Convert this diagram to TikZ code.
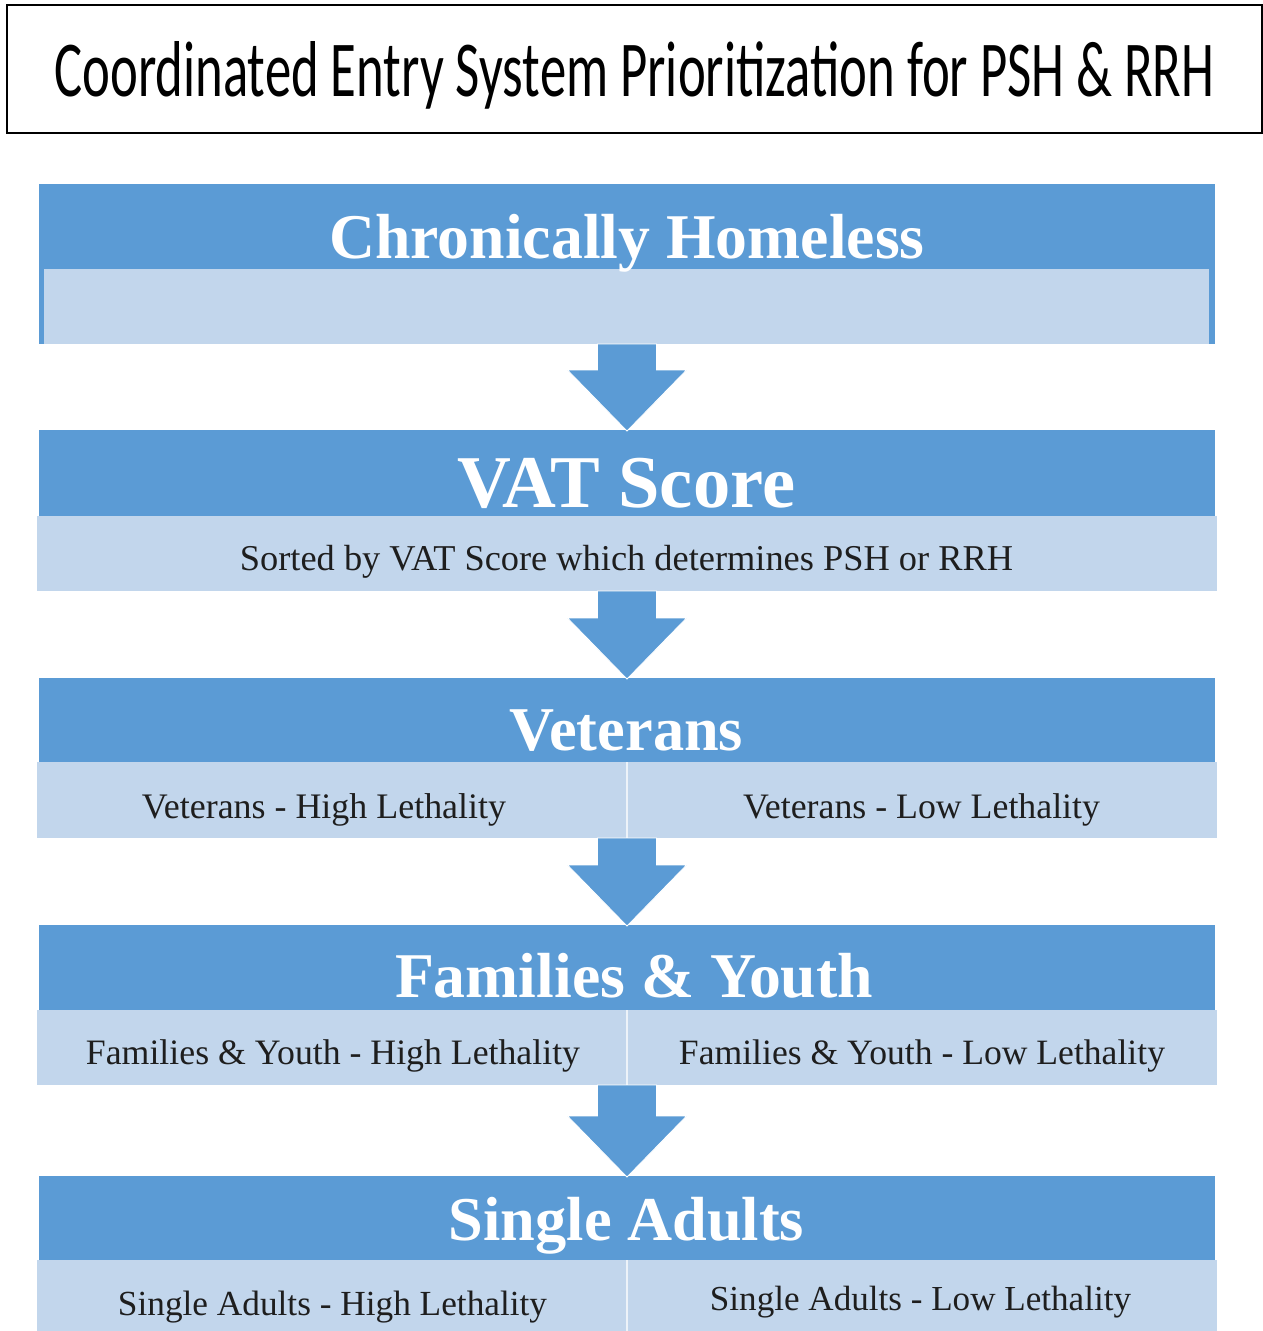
\documentclass[tikz,border=0pt]{standalone}
\usepackage{fontspec}
\setmainfont{Liberation Serif}
\newfontfamily\headlinefont{Carlito}
\usetikzlibrary{calc}

\definecolor{bandblue}{HTML}{5B9BD5}
\definecolor{paneblue}{HTML}{C2D6EC}
\definecolor{inktext}{HTML}{1E1E1E}

\tikzset{
  band/.style={fill=bandblue, draw=none, inner sep=0pt, outer sep=0pt},
  pane/.style={fill=paneblue, draw=none, inner sep=0pt, outer sep=0pt},
  bandtext/.style={anchor=base, text=white, inner sep=0pt, font=\bfseries},
  panetext/.style={anchor=base, text=inktext, inner sep=0pt},
  flowarrow/.style={fill=bandblue, draw=white, line width=0.8pt, line join=miter},
  divider/.style={draw=white!70!paneblue, line width=1.5pt},
}

% block arrow from the bottom of one stage to the top of the next
\newcommand{\stagearrow}[2]{%
  \path[flowarrow] let \p1=(#1.south), \p2=(#2.north) in
    (627pt-29.5pt,\y1) -- (627pt+29.5pt,\y1) -- (627pt+29.5pt,\y2+60pt)
    -- (627pt+59.5pt,\y2+60pt) -- (627pt,\y2-1pt) -- (627pt-59.5pt,\y2+60pt)
    -- (627pt-29.5pt,\y2+60pt) -- cycle;}

\begin{document}
\begin{tikzpicture}[x=1pt,y=-1pt]
\useasboundingbox[fill=white] (0,0) rectangle (1263,1331);

% heading
\node[draw=black, line width=1.6pt, minimum width=1255pt, minimum height=128pt, inner sep=0pt]
  (headbox) at (634.5,69) {};
\node[anchor=base, inner sep=0pt] (headtext) at (634.5,96)
  {\resizebox{1160pt}{55pt}{\headlinefont Coordinated Entry System Prioritization for PSH \& RRH}};

% stage 1: chronically homeless
\node[band, minimum width=1176pt, minimum height=160pt] (h1) at (627,264) {};
\node[pane, minimum width=1165pt, minimum height=75pt] (p1) at (626.5,306.5) {};
\node[bandtext] (t1) at (627,258) {\resizebox{595pt}{!}{Chronically Homeless}};

% stage 2: VAT score
\node[band, minimum width=1176pt, minimum height=86pt] (h2) at (627,473) {};
\node[pane, minimum width=1180pt, minimum height=75pt] (p2) at (627,553.5) {};
\node[bandtext] (t2) at (626.5,507) {\resizebox{337pt}{!}{VAT Score}};
\node[panetext] (s2) at (626.5,570) {\resizebox{773pt}{!}{Sorted by VAT Score which determines PSH or RRH}};

% stage 3: veterans
\node[band, minimum width=1176pt, minimum height=84pt] (h3) at (627,720) {};
\node[pane, minimum width=1180pt, minimum height=76pt] (p3) at (627,800) {};
\draw[divider] (p3.north) -- (p3.south);
\node[bandtext] (t3) at (626.5,750) {\resizebox{233pt}{!}{Veterans}};
\node[panetext] (s3a) at (324,818) {\resizebox{364pt}{!}{Veterans - High Lethality}};
\node[panetext] (s3b) at (921.5,818) {\resizebox{357pt}{!}{Veterans - Low Lethality}};

% stage 4: families and youth
\node[band, minimum width=1176pt, minimum height=85pt] (h4) at (627,967.5) {};
\node[pane, minimum width=1180pt, minimum height=75pt] (p4) at (627,1047.5) {};
\draw[divider] (p4.north) -- (p4.south);
\node[bandtext] (t4) at (634,997) {\resizebox{478pt}{!}{Families \& Youth}};
\node[panetext] (s4a) at (333,1064) {\resizebox{494pt}{!}{Families \& Youth - High Lethality}};
\node[panetext] (s4b) at (922,1064) {\resizebox{486pt}{!}{Families \& Youth - Low Lethality}};

% stage 5: single adults
\node[band, minimum width=1176pt, minimum height=84pt] (h5) at (627,1218) {};
\node[pane, minimum width=1180pt, minimum height=75pt] (p5) at (627,1297.5) {};
\draw[divider] (p5.north) -- (p5.south);
\node[bandtext] (t5) at (626.5,1240) {\resizebox{355pt}{!}{Single Adults}};
\node[panetext] (s5a) at (332.5,1315) {\resizebox{429pt}{!}{Single Adults - High Lethality}};
\node[panetext] (s5b) at (920.5,1310) {\resizebox{421pt}{!}{Single Adults - Low Lethality}};

% arrows between stages
\stagearrow{h1}{h2}
\stagearrow{p2}{h3}
\stagearrow{p3}{h4}
\stagearrow{p4}{h5}
\end{tikzpicture}
\end{document}
